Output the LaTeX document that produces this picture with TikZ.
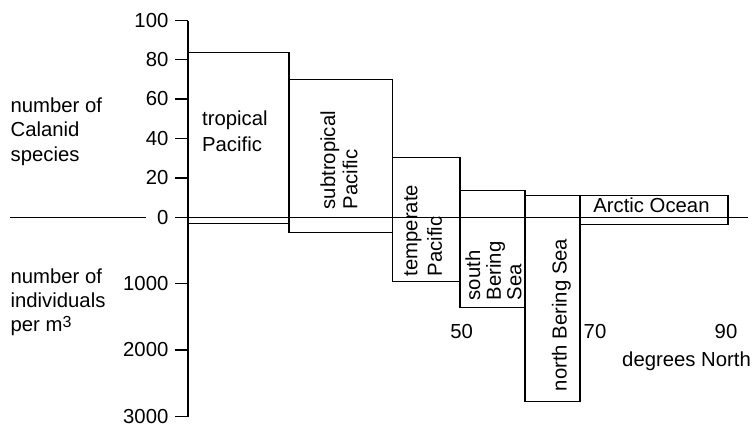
\documentclass[tikz,border=0pt]{standalone}
\usepackage{fontspec}
\setmainfont{Liberation Sans}
\newcommand\mylines[2]{\fontsize{20.3bp}{#1}\selectfont\begin{tabular}[t]{@{}l@{}}#2\end{tabular}}
\begin{document}
\begin{tikzpicture}[x=1bp,y=-1bp,
  line width=1.3bp,
  lbl/.style={inner sep=0pt, font=\fontsize{20.3bp}{25bp}\selectfont},
  bar/.style={draw=black, line width=1.3bp},
  axisline/.style={draw=black, line width=1.4bp}]
\useasboundingbox (0,0) rectangle (755,425);

% zero line
\coordinate (zl1) at (10,217.3);
\coordinate (zl2) at (146,217.3);
\coordinate (zr1) at (176,217.3);
\coordinate (zr2) at (748,217.3);
\draw[axisline] (zl1) -- (zl2);
\draw[axisline] (zr1) -- (zr2);

% bars (species above, individuals below)
\draw[bar] (188,52.7) rectangle (289,223.3);
\draw[bar] (289,79.3) rectangle (392.5,232.5);
\draw[bar] (392.5,157.3) rectangle (460,281.7);
\draw[bar] (460,190.7) rectangle (525,307.2);
\draw[bar] (525,195.8) rectangle (580,401.7);
\draw[bar] (580,195.8) rectangle (728,224.2);

% vertical axis
\coordinate (atop) at (188,20.5);
\coordinate (abot) at (188,417);
\draw[axisline] (atop) -- (abot);
\foreach \yy/\tt [count=\i] in {20.5/100, 59.3/80, 99/60, 138.5/40, 178/20, 217.3/0, 283.5/1000, 350/2000, 416.5/3000}{
  \draw[axisline] (175,\yy) -- (188,\yy);
  \node[lbl, anchor=east] (tick\i) at (169,\yy) {\tt};
}

% left labels
\node[lbl, anchor=base west] (species) at (10,112)
  {\mylines{24.5bp}{number of\\Calanid\\species}};
\node[lbl, anchor=base west] (indiv) at (10,283.3)
  {\mylines{24bp}{number of\\individuals\\per m\raisebox{4bp}{\fontsize{16bp}{16bp}\selectfont 3}}};

% region labels
\node[lbl, anchor=base west] (trop) at (201.5,125.5)
  {\mylines{26bp}{tropical\\Pacific}};
\node[lbl, anchor=base west, rotate=90] (subtrop) at (335,210)
  {\mylines{22.3bp}{subtropical\\Pacific}};
\node[lbl, anchor=base west, rotate=90] (temp) at (417.3,277)
  {\mylines{24.5bp}{temperate\\Pacific}};
\node[lbl, anchor=base west, rotate=90] (sbering) at (480,301)
  {\mylines{20.5bp}{south\\Bering\\Sea}};
\node[lbl, anchor=base west, rotate=90] (nbering) at (566.7,391.7)
  {north Bering Sea};
\node[lbl, anchor=base west] (arctic) at (592.7,212.7) {Arctic Ocean};

% degrees
\node[lbl, anchor=base] (d50) at (461.7,338) {50};
\node[lbl, anchor=base] (d70) at (595,338) {70};
\node[lbl, anchor=base] (d90) at (726,338) {90};
\node[lbl, anchor=base east] (degN) at (751.5,366.5) {degrees North};
\end{tikzpicture}
\end{document}
